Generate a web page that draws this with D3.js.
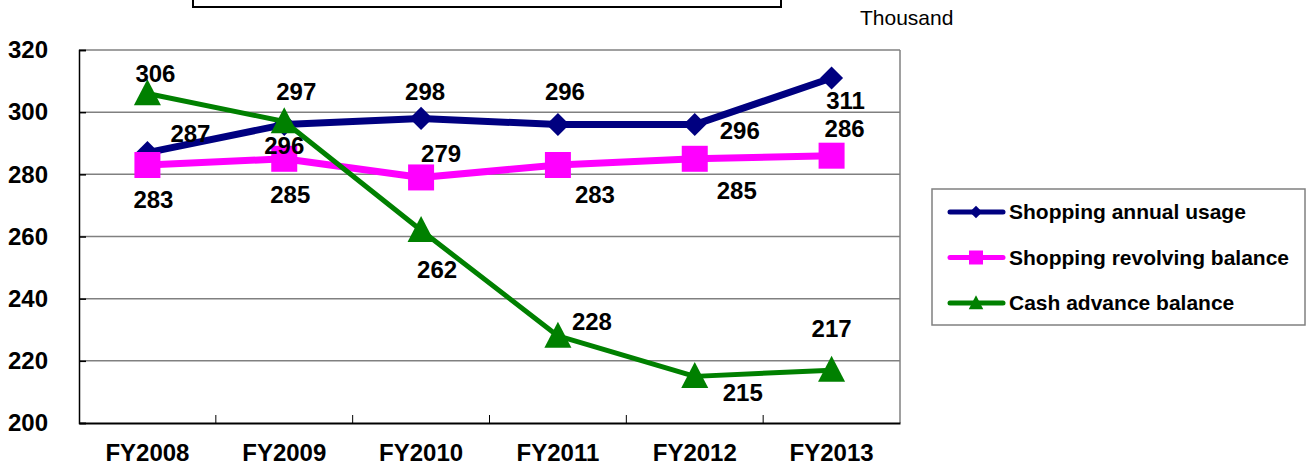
<!DOCTYPE html>
<html>
<head>
<meta charset="utf-8">
<script src="https://cdn.jsdelivr.net/npm/d3@7"></script>
<style>
  body { margin: 0; background: #fff; }
  text { font-family: "Liberation Sans", Arial, sans-serif; }
</style>
</head>
<body>
<div id="chart"></div>
<script>
let years = ['FY2008', 'FY2009', 'FY2010', 'FY2011', 'FY2012', 'FY2013']
let usage = [287, 296, 298, 296, 296, 311]
let revolving = [283, 285, 279, 283, 285, 286]
let cash = [306, 297, 262, 228, 215, 217]
let yTicks = [200, 220, 240, 260, 280, 300, 320]

// label offsets from the point (dx, baseline dy), placed by hand like the original
let usageLabelPos = [[43, -11], [0, 29], [4, -18], [7, -25], [45, 14], [14, 31]]
let revolvingLabelPos = [[6, 43], [6, 44], [20, -15], [37, 38], [42, 40], [13, -19]]
let cashLabelPos = [[8, -12], [12, -21], [16, 48], [34, -6], [48, 25], [0, -33]]

let series = [
  {name: 'Shopping annual usage', values: usage, pos: usageLabelPos, color: '#000080', width: 7, marker: 'diamond'},
  {name: 'Shopping revolving balance', values: revolving, pos: revolvingLabelPos, color: '#ff00ff', width: 7, marker: 'square'},
  {name: 'Cash advance balance', values: cash, pos: cashLabelPos, color: '#008000', width: 5, marker: 'triangle'}
]

let width = 1309,
  height = 468,
  plot = {left: 79, right: 900, top: 50, bottom: 423}

let x = d3.scaleBand()
  .domain(years)
  .range([plot.left, plot.right])

let y = d3.scaleLinear()
  .domain([200, 320])
  .range([plot.bottom, plot.top])

let svg = d3.select('#chart').append('svg')
  .attr('width', width)
  .attr('height', height)

// title box cut off at the top
svg.append('rect')
  .attr('x', 193)
  .attr('y', -20)
  .attr('width', 588)
  .attr('height', 27)
  .attr('fill', 'none')
  .attr('stroke', '#000')
  .attr('stroke-width', 2)

svg.append('text')
  .attr('x', 860)
  .attr('y', 25)
  .attr('font-size', 21)
  .text('Thousand')

// gridlines
svg.append('g').selectAll('line')
  .data(yTicks.slice(1))
  .enter().append('line')
  .attr('x1', plot.left)
  .attr('x2', plot.right)
  .attr('y1', d => y(d))
  .attr('y2', d => y(d))
  .attr('stroke', '#808080')
  .attr('stroke-width', 1.5)

svg.append('line')
  .attr('x1', plot.right).attr('x2', plot.right)
  .attr('y1', plot.top).attr('y2', plot.bottom)
  .attr('stroke', '#808080')
  .attr('stroke-width', 1.5)

let yAxis = svg.append('g')
  .attr('transform', 'translate(' + plot.left + ',0)')
  .call(d3.axisLeft(y).tickValues(yTicks).tickSize(-7).tickPadding(31))
yAxis.select('.domain').attr('stroke', '#000').attr('stroke-width', 1.5)
yAxis.selectAll('.tick line').attr('stroke', '#000').attr('stroke-width', 1.5)
yAxis.selectAll('text')
  .attr('font-size', 24)
  .attr('font-weight', 'bold')
  .attr('fill', '#000')
  .attr('font-family', '"Liberation Sans", Arial, sans-serif')

let xAxis = svg.append('g')
  .attr('transform', 'translate(0,' + plot.bottom + ')')
  .call(d3.axisBottom(x).tickSize(0).tickPadding(21))
xAxis.select('.domain').attr('stroke', '#000').attr('stroke-width', 2)
xAxis.selectAll('text')
  .attr('font-size', 24)
  .attr('font-weight', 'bold')
  .attr('fill', '#000')
  .attr('font-family', '"Liberation Sans", Arial, sans-serif')

// inner ticks between categories
svg.append('g').selectAll('line')
  .data(years.slice(1))
  .enter().append('line')
  .attr('x1', d => x(d))
  .attr('x2', d => x(d))
  .attr('y1', plot.bottom)
  .attr('y2', plot.bottom - 8)
  .attr('stroke', '#000')
  .attr('stroke-width', 1)

let cx = d => x(d) + x.bandwidth() / 2

function markerPath(type, s) {
  if (type === 'diamond') return d3.symbol(d3.symbolDiamond2, s * s * 0.5)()
  if (type === 'square') return 'M' + (-s / 2) + ',' + (-s / 2) + 'h' + s + 'v' + s + 'h' + (-s) + 'Z'
  return 'M0,' + (-s * 0.55) + 'L' + (s * 0.52) + ',' + (s * 0.45) + 'L' + (-s * 0.52) + ',' + (s * 0.45) + 'Z'
}

let line = d3.line()
  .x((d, i) => cx(years[i]))
  .y(d => y(d))

series.forEach(function (s) {
  svg.append('path')
    .datum(s.values)
    .attr('d', line)
    .attr('fill', 'none')
    .attr('stroke', s.color)
    .attr('stroke-width', s.width)
    .attr('stroke-linejoin', 'round')

  svg.append('g').selectAll('path')
    .data(s.values)
    .enter().append('path')
    .attr('d', markerPath(s.marker, 26))
    .attr('transform', (d, i) => 'translate(' + cx(years[i]) + ',' + y(d) + ')')
    .attr('fill', s.color)
})

series.forEach(function (s) {
  svg.append('g').selectAll('text')
    .data(s.values)
    .enter().append('text')
    .attr('x', (d, i) => cx(years[i]) + s.pos[i][0])
    .attr('y', (d, i) => y(d) + s.pos[i][1])
    .attr('text-anchor', 'middle')
    .attr('font-size', 24)
    .attr('font-weight', 'bold')
    .text(d => d)
})

// legend
let legend = svg.append('g')
legend.append('rect')
  .attr('x', 932)
  .attr('y', 189)
  .attr('width', 373)
  .attr('height', 136)
  .attr('fill', '#fff')
  .attr('stroke', '#808080')
  .attr('stroke-width', 1.5)

let legendY = d3.scalePoint()
  .domain(series.map(s => s.name))
  .range([212, 303])

series.forEach(function (s) {
  let ly = legendY(s.name)
  legend.append('line')
    .attr('x1', 950).attr('x2', 1003)
    .attr('y1', ly).attr('y2', ly)
    .attr('stroke', s.color)
    .attr('stroke-width', 5)
    .attr('stroke-linecap', 'round')
  legend.append('path')
    .attr('d', markerPath(s.marker, 14))
    .attr('transform', 'translate(976,' + ly + ')')
    .attr('fill', s.color)
  legend.append('text')
    .attr('x', 1009)
    .attr('y', ly + 7)
    .attr('font-size', 21)
    .attr('font-weight', 'bold')
    .text(s.name)
})
</script>
</body>
</html>
